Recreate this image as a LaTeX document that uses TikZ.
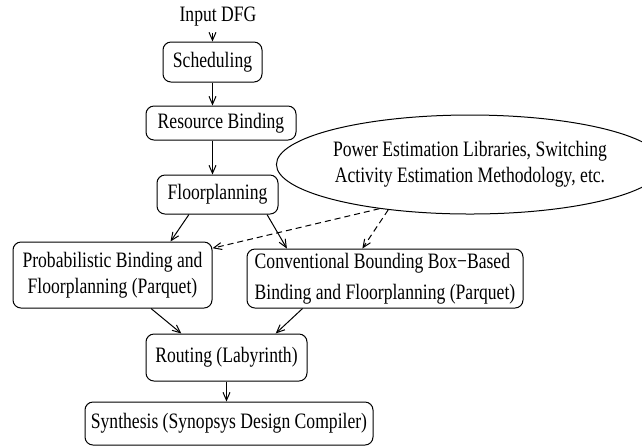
\documentclass[tikz,border=0pt]{standalone}
\usepackage{fontspec}
\setmainfont{Liberation Serif}[FakeStretch=0.8]
\usetikzlibrary{arrows.meta,shapes.geometric}

\tikzset{
  stepbox/.style={draw,rounded corners=4pt,inner sep=0pt,align=center},
  powerell/.style={draw,ellipse,inner sep=0pt,align=center},
}

\begin{document}
\begin{tikzpicture}[x=0.5pt,y=-0.5pt,line width=0.5pt,>={Straight Barb[length=4pt,width=3.5pt]},
  font=\fontsize{11}{13}\selectfont]
\useasboundingbox (0,0) rectangle (642,447);
% flow boxes
\node[anchor=base] (input) at (218,21) {Input DFG};
\node[stepbox,minimum width=49.5pt,minimum height=20pt] (sched) at (212.5,62) {Scheduling};
\node[stepbox,minimum width=75pt,minimum height=17pt] (resbind) at (221,123) {Resource Binding};
\node[stepbox,minimum width=60.5pt,minimum height=19.5pt] (floor) at (217.5,194.5) {Floorplanning};
\node[stepbox,minimum width=99.5pt,minimum height=33pt] (prob) at (112.5,275)
  {Probabilistic Binding and\\Floorplanning (Parquet)};
\node[stepbox,align=left,minimum width=138pt,minimum height=29.5pt,
  font=\fontsize{11}{15.5}\selectfont] (conv) at (385,278.5)
  {Conventional Bounding Box−Based\\Binding and Floorplanning (Parquet)};
\node[powerell,minimum width=164pt,minimum height=49.5pt] (power) at (470,164.5)
  {Power Estimation Libraries, Switching\\Activity Estimation Methodology, etc.};
\node[stepbox,minimum width=80.5pt,minimum height=23.5pt] (route) at (226.5,357.5) {Routing (Labyrinth)};
\node[stepbox,minimum width=144pt,minimum height=21.5pt] (synth) at (229,423.5)
  {Synthesis (Synopsys Design Compiler)};
% connectors
\draw[->] (input.south -| sched.north) -- (sched.north);
\draw[->] (sched.south) -- (sched.south |- resbind.north);
\draw[->] (sched.south |- resbind.south) -- (sched.south |- floor.north);
\draw[->] (floor.215) -- (prob.30);
\draw[->] (floor.338) -- (conv.163);
\draw[->,dash pattern=on 3pt off 2pt] (power.206) -- (prob.15);
\draw[->,dash pattern=on 3pt off 2pt] (power.209) -- (conv.127);
\draw[->] (prob.319) -- (route.152);
\draw[->] (conv.200) -- (route.26);
\draw[->] (route.south) -- (route.south |- synth.north);
\end{tikzpicture}
\end{document}
